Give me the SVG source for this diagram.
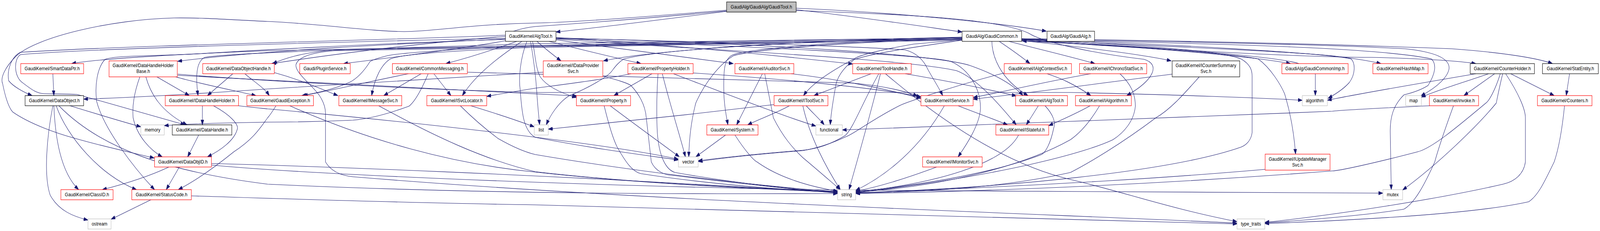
<svg xmlns="http://www.w3.org/2000/svg" width="4783" height="592" viewBox="0 0 4783 592" preserveAspectRatio="none">
<defs>
<marker id="arr" markerUnits="userSpaceOnUse" markerWidth="14" markerHeight="10" refX="13" refY="4.5" orient="auto">
<path d="M0,0 L13,4.5 L0,9 Z" fill="#191970" stroke="#191970" stroke-width="1"/>
</marker>
<style>
svg{width:100vw;height:100vh}
.n rect{fill:#ffffff;stroke-width:1.2}
.r rect{stroke:#ff0000}
.k rect{stroke:#000000}
.g rect{stroke:#bfbfbf}
.f rect{fill:#bfbfbf;stroke:#000000}
text{font-family:"Liberation Sans",Arial,Helvetica,sans-serif;font-size:13px;text-anchor:middle;fill:#000000}
#edges path{fill:none;stroke:#191970;stroke-width:1.1;marker-end:url(#arr)}
</style>
</defs>
<rect x="0" y="0" width="4783" height="592" fill="#ffffff"/>
<g id="edges">
<path d="M2172,29 C1980,50 1780,72 1662,82"/>
<path d="M2380,25 C2560,42 2760,68 2876,82"/>
<path d="M2380,21 C2700,33 3000,60 3128,80"/>
<path d="M2380,27 C2750,38 2990,50 3075,85 C3110,105 3250,135 3420,152 C3470,165 3450,205 3368,245"/>
<path d="M2172,26 C1900,45 1700,58 1600,59 C1400,62 1300,81 1208,81 C1100,80 950,60 800,55 C680,50 600,45 520,46 C330,50 110,95 49,143 C15,172 0,200 8,215 C15,245 25,275 38,287 C90,318 170,342 226,355 C320,378 400,392 461,405"/>
<path d="M2172,28 C1900,50 1700,62 1600,68 C1560,72 1530,80 1510,90 C1300,100 400,115 61,134 C35,145 20,178 26,207 C40,222 70,236 96,245"/>
<path d="M1514,104 C1400,122 1150,150 1027,163"/>
<path d="M1545,106 C1480,126 1400,148 1333,163"/>
<path d="M1560,106 C1520,130 1430,180 1382,245"/>
<path d="M1605,106 C1630,125 1660,145 1677,156"/>
<path d="M1641,106 C1750,130 1850,150 1916,163"/>
<path d="M1662,102 C1850,125 2050,148 2192,163"/>
<path d="M1586,106 C1595,150 1602,200 1605,240 C1608,280 1611,300 1613,320"/>
<path d="M1575,106 C1555,150 1550,200 1555,230 C1560,290 1565,335 1600,352 C1800,385 1950,400 2028,410"/>
<path d="M1592,106 C1600,140 1602,178 1615,197 C1635,222 1675,238 1723,250"/>
<path d="M1662,96 C2000,115 2300,140 2549,164"/>
<path d="M1511,93 C1200,115 950,145 812,163"/>
<path d="M1511,100 C1200,112 800,128 531,157"/>
<path d="M1511,98 C1100,106 300,122 61,140 C40,152 42,196 66,211 C95,230 110,240 133,240 C180,241 200,241 230,242 C350,270 490,305 553,320"/>
<path d="M1511,101 C1100,112 700,132 592,138 C450,144 330,142 313,153 C290,175 283,220 289,260 C310,330 400,430 462,486"/>
<path d="M1662,98 C2100,106 2600,120 2706,128 C2740,135 2762,155 2775,180 C2795,210 2810,230 2818,245"/>
<path d="M1662,100 C2100,128 2700,150 2859,181 C2920,200 2990,270 3038,320"/>
<path d="M1662,99 C2200,118 2780,140 2844,158 C2900,180 2932,230 2931,279 C2928,320 2890,370 2864,402"/>
<path d="M1662,97 C2300,112 2800,140 2900,168 C2980,192 3030,218 3058,245"/>
<path d="M2987,106 C3020,125 3060,150 3079,163"/>
<path d="M2965,106 C2966,140 2985,200 3073,245"/>
<path d="M2876,96 C2000,110 1000,125 800,130 C500,140 300,150 214,163"/>
<path d="M2876,97 C2200,105 1700,110 1600,112 C1100,125 700,135 612,147 C585,158 585,200 592,245"/>
<path d="M2876,99 C2000,108 1200,122 1000,128 C900,135 850,150 815,163"/>
<path d="M2876,103 C2000,112 1200,125 1000,130 C920,135 890,150 885,165 C880,185 930,215 955,245 C968,262 973,278 973,290 L973,415 C990,440 1020,450 1055,453 C2000,520 3200,550 3698,572"/>
<path d="M2876,101 C2200,108 1700,115 1600,117 C1300,128 1180,138 1157,143 C1125,150 1110,155 1106,158 C1090,180 1070,200 1045,211 C1000,228 950,238 902,245"/>
<path d="M2876,99 C2200,110 1700,118 1600,121 C1300,132 1200,140 1167,151 C1140,165 1120,200 1111,245"/>
<path d="M2876,95 C2400,104 1950,128 1804,156"/>
<path d="M2876,97 C2300,105 1950,132 1865,151 C1848,160 1838,172 1830,181 C1820,195 1760,225 1702,245 C1670,262 1645,295 1633,320"/>
<path d="M2876,99 C2500,105 2250,125 2192,140 C2165,150 2162,175 2164,242 C2166,280 2172,300 2176,320"/>
<path d="M2876,100 C2500,108 2250,128 2192,143 C2150,165 2105,215 2080,264 C2066,310 2060,360 2059,402"/>
<path d="M2876,102 C2800,108 2750,112 2731,113 C2650,125 2570,140 2553,151 C2500,175 2430,210 2402,245"/>
<path d="M2876,103 C2780,115 2610,135 2553,153 C2520,175 2500,200 2497,226 C2490,260 2484,290 2482,320"/>
<path d="M3054,100 C3400,115 3650,130 3710,151 C3738,165 3743,180 3743,195 L3743,340 C3740,360 3725,372 3710,377 C3500,440 3000,482 2558,494"/>
<path d="M3016,106 C3100,125 3200,145 3273,163"/>
<path d="M3054,104 C3250,122 3420,140 3501,156"/>
<path d="M3054,103 C3400,118 3750,145 3858,163"/>
<path d="M3054,102 C3500,118 3900,135 3983,143 C4050,150 4100,157 4128,163"/>
<path d="M3054,101 C3600,135 3950,147 4100,147 C4250,150 4350,155 4412,163"/>
<path d="M3054,99 C3500,104 3983,113 4340,125 C4500,135 4600,150 4641,163"/>
<path d="M3054,100 C3500,106 3983,115 4200,125 C4290,133 4332,150 4332,174 C4330,195 4300,222 4247,246"/>
<path d="M3054,101 C3500,110 4100,118 4279,151 C4296,165 4290,190 4269,219 C4240,235 4210,240 4197,243 C4165,270 4155,300 4156,340 C4157,400 4158,450 4159,486"/>
<path d="M3054,100 C3500,112 3983,138 4039,151 C4052,162 4052,190 4034,211 C4020,225 3995,240 3970,252"/>
<path d="M3054,105 C3500,125 3700,140 3761,151 C3800,175 3830,220 3840,240 C3858,290 3868,340 3873,395"/>
<path d="M3883,163 C3800,140 3300,112 3056,105"/>
<path d="M3932,189 L3932,245"/>
<path d="M158,189 L161,245"/>
<path d="M469,197 L566,245"/>
<path d="M525,197 C600,215 700,232 765,245"/>
<path d="M436,197 C450,240 480,285 559,320"/>
<path d="M418,197 C400,240 395,275 398,302 C410,350 450,385 485,402"/>
<path d="M531,193 C1000,215 1500,236 1725,246"/>
<path d="M531,190 C750,205 1200,228 1600,237 C2400,239 2900,237 3200,237 C3500,242 3800,252 3893,257"/>
<path d="M696,189 L620,245"/>
<path d="M820,186 C900,205 960,228 1010,245"/>
<path d="M732,189 C760,210 790,225 805,245"/>
<path d="M1624,185 C1300,200 1000,215 800,228 C600,240 400,250 250,254"/>
<path d="M1804,196 C1850,205 1880,215 1886,219 C1920,250 1930,280 1932,302 C1940,360 1945,400 1947,415 C1960,440 1990,449 2008,449 C2200,470 2400,487 2504,495"/>
<path d="M1949,189 L1835,245"/>
<path d="M1980,189 C2000,260 2030,340 2049,402"/>
<path d="M1967,189 C1962,250 1963,310 1965,340 C1970,400 1990,435 2018,442 C2200,470 2400,488 2504,493"/>
<path d="M1886,189 C1800,205 1650,220 1600,226 C1550,233 1500,240 1455,247"/>
<path d="M2013,189 C2200,250 2350,300 2439,323"/>
<path d="M2072,187 C2300,200 2600,222 2753,248"/>
<path d="M2279,189 L2202,320"/>
<path d="M2286,189 C2300,250 2308,285 2312,302 C2340,350 2370,380 2400,404 C2450,440 2490,470 2512,486"/>
<path d="M2365,189 C2500,202 2650,228 2753,252"/>
<path d="M2604,189 L2433,245"/>
<path d="M2706,189 C2850,210 2950,228 3038,246"/>
<path d="M2627,189 C2580,260 2550,330 2527,347 C2480,372 2440,382 2400,385 C2250,395 2150,405 2087,412"/>
<path d="M2632,189 C2600,300 2560,420 2538,486"/>
<path d="M2647,189 C2800,300 3000,420 3200,460 C3350,490 3500,535 3698,568"/>
<path d="M3002,187 C2850,220 2700,265 2686,272 C2600,310 2550,345 2527,351 C2480,370 2440,380 2400,386 C2250,396 2150,406 2087,414"/>
<path d="M3130,189 C3170,200 3210,215 3261,245"/>
<path d="M3261,189 C3150,205 3000,235 2909,250"/>
<path d="M3348,189 C3380,215 3394,240 3394,272 C3390,310 3360,340 3327,358 C3250,390 3000,450 2558,494"/>
<path d="M3504,190 C3300,212 3100,236 2909,254"/>
<path d="M3585,197 C3540,240 3500,280 3455,302 C3350,370 3250,420 3200,442 C3000,480 2800,490 2558,495"/>
<path d="M3259,271 C3230,285 3180,305 3135,322"/>
<path d="M3287,271 C3260,310 3230,340 3200,358 C3050,430 2800,480 2558,492"/>
<path d="M3104,271 L3068,320"/>
<path d="M3124,271 C3150,295 3156,315 3150,328 C3140,370 3125,390 3114,396 C2950,450 2700,480 2558,491"/>
<path d="M2864,271 C2920,290 2970,305 3012,320"/>
<path d="M2823,271 C2750,380 2650,450 2558,488"/>
<path d="M2314,268 C2100,290 1800,318 1639,331"/>
<path d="M2360,271 C2320,290 2270,305 2235,320"/>
<path d="M2410,271 C2430,290 2450,305 2464,320"/>
<path d="M2400,271 C2420,350 2470,430 2512,486"/>
<path d="M3045,346 C3000,420 2800,470 2558,492"/>
<path d="M2800,428 C2700,460 2620,480 2558,490"/>
<path d="M2169,346 L2080,402"/>
<path d="M2197,346 C2230,390 2255,412 2263,415 C2320,450 2400,475 2504,490"/>
<path d="M1824,271 C1900,320 1980,370 2031,402"/>
<path d="M1806,271 C1820,320 1835,360 1845,377 C1870,415 1890,440 1916,445 C2100,470 2350,488 2504,492"/>
<path d="M1407,271 C1480,290 1550,310 1597,325"/>
<path d="M1376,271 C1410,300 1450,330 1489,355 C1530,375 1570,390 1600,396 C1900,440 2300,480 2504,491"/>
<path d="M1132,271 C1300,350 1450,410 1600,440 C1900,470 2300,485 2504,491"/>
<path d="M825,271 C815,285 805,297 800,302 C780,325 760,355 699,389 C640,430 580,465 533,486"/>
<path d="M866,271 C1100,360 1350,420 1600,441 C1900,470 2300,486 2504,492"/>
<path d="M1221,189 C1100,210 1000,230 907,245"/>
<path d="M1259,189 L1147,245"/>
<path d="M1297,189 L1348,245"/>
<path d="M1397,185 C1800,194 2300,208 2550,213 C2640,220 2700,232 2743,246"/>
<path d="M1280,189 C1260,230 1240,260 1223,272 C1150,295 1100,305 1055,308 C950,312 850,313 800,313 C650,315 550,318 491,322"/>
<path d="M605,271 L605,320"/>
<path d="M638,271 C690,295 715,320 709,332 C700,360 660,385 620,402"/>
<path d="M713,271 C750,275 790,278 800,279 C1200,310 1800,365 2028,408"/>
<path d="M594,346 L561,402"/>
<path d="M161,271 C165,350 180,440 235,486"/>
<path d="M168,271 C200,350 300,450 408,486"/>
<path d="M209,271 C300,295 380,315 421,325"/>
<path d="M158,271 C140,350 130,450 150,500 C175,540 220,555 263,564"/>
<path d="M176,271 C300,380 500,440 800,472 C1500,500 2200,497 2504,496"/>
<path d="M505,428 C450,450 380,470 306,486"/>
<path d="M536,428 L497,486"/>
<path d="M632,419 C900,425 1600,445 2504,494"/>
<path d="M632,423 C900,445 1600,472 2400,486 C3000,491 3700,492 4134,495"/>
<path d="M451,512 L332,562"/>
<path d="M572,502 C800,508 1200,520 1600,525 C2500,545 3300,560 3698,574"/>
<path d="M4450,189 C4380,210 4300,230 4249,249"/>
<path d="M4468,189 L4376,245"/>
<path d="M4516,189 L4646,245"/>
<path d="M4492,189 C4482,225 4475,255 4473,264 C4420,320 4300,420 4193,487"/>
<path d="M4412,189 C4200,220 4050,242 3968,257"/>
<path d="M4485,189 C4470,230 4452,258 4442,264 C4350,330 4280,380 4238,389 C4100,420 4000,438 3983,438 C3500,470 3000,490 2558,496"/>
<path d="M4501,189 C4540,240 4560,280 4560,302 L4560,415 C4555,445 4530,465 4493,472 C4300,510 4000,550 3781,570"/>
<path d="M4692,189 L4682,245"/>
<path d="M4274,271 C4100,278 4000,283 3983,285 C3700,295 3400,305 3200,311 C2900,320 2700,328 2518,333"/>
<path d="M4345,271 C4320,330 4300,380 4289,415 C4260,470 4230,520 4197,536 C4100,550 3900,565 3781,571"/>
<path d="M4677,271 C4670,330 4660,380 4646,415 C4620,460 4600,500 4570,517 C4400,550 4000,566 3781,573"/>
<path d="M3782,434 C3500,455 3200,472 2558,495"/>
</g>
<g id="node-GaudiTool" class="n f"><rect x="2172" y="5" width="208" height="26"/><text x="2276" y="22.5">GaudiAlg/GaudiAlg/GaudiTool.h</text></g>
<g id="node-AlgTool" class="n k"><rect x="1511" y="80" width="151" height="26"/><text x="1586.5" y="97.5">GaudiKernel/AlgTool.h</text></g>
<g id="node-GaudiCommon" class="n k"><rect x="2876" y="80" width="178" height="26"/><text x="2965" y="97.5">GaudiAlg/GaudiCommon.h</text></g>
<g id="node-GaudiAlg" class="n k"><rect x="3130" y="80" width="142" height="26"/><text x="3201" y="97.5">GaudiAlg/GaudiAlg.h</text></g>
<g id="node-SmartDataPtr" class="n r"><rect x="62" y="163" width="188" height="26"/><text x="156" y="180.5">GaudiKernel/SmartDataPtr.h</text></g>
<g id="node-DataHandleHolderBase" class="n r"><rect x="326" y="156" width="204" height="41"/><text x="428" y="172">GaudiKernel/DataHandleHolder</text><text x="428" y="187">Base.h</text></g>
<g id="node-DataObjectHandle" class="n r"><rect x="606" y="163" width="214" height="26"/><text x="713" y="180.5">GaudiKernel/DataObjectHandle.h</text></g>
<g id="node-PluginService" class="n r"><rect x="896" y="163" width="151" height="26"/><text x="971.5" y="180.5">Gaudi/PluginService.h</text></g>
<g id="node-CommonMessaging" class="n r"><rect x="1173" y="163" width="224" height="26"/><text x="1285" y="180.5">GaudiKernel/CommonMessaging.h</text></g>
<g id="node-IDataProviderSvc" class="n r"><rect x="1624" y="156" width="178" height="41"/><text x="1713" y="172">GaudiKernel/IDataProvider</text><text x="1713" y="187">Svc.h</text></g>
<g id="node-PropertyHolder" class="n r"><rect x="1877" y="163" width="195" height="26"/><text x="1974.5" y="180.5">GaudiKernel/PropertyHolder.h</text></g>
<g id="node-IAuditorSvc" class="n r"><rect x="2197" y="163" width="176" height="26"/><text x="2285" y="180.5">GaudiKernel/IAuditorSvc.h</text></g>
<g id="node-ToolHandle" class="n r"><rect x="2549" y="163" width="175" height="26"/><text x="2636.5" y="180.5">GaudiKernel/ToolHandle.h</text></g>
<g id="node-IAlgContextSvc" class="n r"><rect x="3002" y="163" width="201" height="26"/><text x="3102.5" y="180.5">GaudiKernel/IAlgContextSvc.h</text></g>
<g id="node-IChronoStatSvc" class="n r"><rect x="3227" y="163" width="201" height="26"/><text x="3327.5" y="180.5">GaudiKernel/IChronoStatSvc.h</text></g>
<g id="node-ICounterSummarySvc" class="n k"><rect x="3504" y="156" width="202" height="41"/><text x="3605" y="172">GaudiKernel/ICounterSummary</text><text x="3605" y="187">Svc.h</text></g>
<g id="node-GaudiCommonImp" class="n r"><rect x="3832" y="163" width="198" height="26"/><text x="3931" y="180.5">GaudiAlg/GaudiCommonImp.h</text></g>
<g id="node-HashMap" class="n r"><rect x="4104" y="163" width="165" height="26"/><text x="4186.5" y="180.5">GaudiKernel/HashMap.h</text></g>
<g id="node-CounterHolder" class="n k"><rect x="4395" y="163" width="192" height="26"/><text x="4491" y="180.5">GaudiKernel/CounterHolder.h</text></g>
<g id="node-StatEntity" class="n k"><rect x="4611" y="163" width="167" height="26"/><text x="4694.5" y="180.5">GaudiKernel/StatEntity.h</text></g>
<g id="node-DataObject" class="n k"><rect x="75" y="245" width="175" height="26"/><text x="162.5" y="262.5">GaudiKernel/DataObject.h</text></g>
<g id="node-IDataHandleHolder" class="n r"><rect x="494" y="245" width="219" height="26"/><text x="603.5" y="262.5">GaudiKernel/IDataHandleHolder.h</text></g>
<g id="node-GaudiException" class="n r"><rect x="738" y="245" width="199" height="26"/><text x="837.5" y="262.5">GaudiKernel/GaudiException.h</text></g>
<g id="node-IMessageSvc" class="n r"><rect x="1013" y="245" width="188" height="26"/><text x="1107" y="262.5">GaudiKernel/IMessageSvc.h</text></g>
<g id="node-ISvcLocator" class="n r"><rect x="1276" y="245" width="179" height="26"/><text x="1365.5" y="262.5">GaudiKernel/ISvcLocator.h</text></g>
<g id="node-IProperty" class="n r"><rect x="1723" y="245" width="162" height="26"/><text x="1804" y="262.5">GaudiKernel/IProperty.h</text></g>
<g id="node-IToolSvc" class="n r"><rect x="2314" y="245" width="161" height="26"/><text x="2394.5" y="262.5">GaudiKernel/IToolSvc.h</text></g>
<g id="node-IService" class="n r"><rect x="2753" y="245" width="156" height="26"/><text x="2831" y="262.5">GaudiKernel/IService.h</text></g>
<g id="node-IAlgTool" class="n r"><rect x="3036" y="245" width="155" height="26"/><text x="3113.5" y="262.5">GaudiKernel/IAlgTool.h</text></g>
<g id="node-IAlgorithm" class="n r"><rect x="3215" y="245" width="167" height="26"/><text x="3298.5" y="262.5">GaudiKernel/IAlgorithm.h</text></g>
<g id="node-algorithm" class="n g"><rect x="3893" y="245" width="75" height="26"/><text x="3930.5" y="262.5">algorithm</text></g>
<g id="node-map" class="n g"><rect x="4202" y="245" width="47" height="26"/><text x="4225.5" y="262.5">map</text></g>
<g id="node-invoke" class="n r"><rect x="4273" y="245" width="147" height="26"/><text x="4346.5" y="262.5">GaudiKernel/invoke.h</text></g>
<g id="node-Counters" class="n r"><rect x="4596" y="245" width="163" height="26"/><text x="4677.5" y="262.5">GaudiKernel/Counters.h</text></g>
<g id="node-memory" class="n g"><rect x="421" y="320" width="70" height="26"/><text x="456" y="337.5">memory</text></g>
<g id="node-DataHandle" class="n k"><rect x="515" y="320" width="178" height="26"/><text x="604" y="337.5">GaudiKernel/DataHandle.h</text></g>
<g id="node-list" class="n g"><rect x="1597" y="320" width="42" height="26"/><text x="1618" y="337.5">list</text></g>
<g id="node-System" class="n r"><rect x="2113" y="320" width="153" height="26"/><text x="2189.5" y="337.5">GaudiKernel/System.h</text></g>
<g id="node-functional" class="n g"><rect x="2439" y="320" width="79" height="26"/><text x="2478.5" y="337.5">functional</text></g>
<g id="node-IStateful" class="n r"><rect x="2977" y="320" width="158" height="26"/><text x="3056" y="337.5">GaudiKernel/IStateful.h</text></g>
<g id="node-DataObjID" class="n r"><rect x="462" y="402" width="170" height="26"/><text x="547" y="419.5">GaudiKernel/DataObjID.h</text></g>
<g id="node-vector" class="n g"><rect x="2028" y="402" width="59" height="26"/><text x="2057.5" y="419.5">vector</text></g>
<g id="node-IMonitorSvc" class="n r"><rect x="2758" y="402" width="178" height="26"/><text x="2847" y="419.5">GaudiKernel/IMonitorSvc.h</text></g>
<g id="node-IUpdateManagerSvc" class="n r"><rect x="3782" y="395" width="194" height="41"/><text x="3879" y="412">GaudiKernel/IUpdateManager</text><text x="3879" y="427">Svc.h</text></g>
<g id="node-ClassID" class="n r"><rect x="182" y="486" width="156" height="26"/><text x="260" y="503.5">GaudiKernel/ClassID.h</text></g>
<g id="node-StatusCode" class="n r"><rect x="394" y="486" width="178" height="26"/><text x="483" y="503.5">GaudiKernel/StatusCode.h</text></g>
<g id="node-string" class="n g"><rect x="2504" y="486" width="54" height="26"/><text x="2531" y="503.5">string</text></g>
<g id="node-mutex" class="n g"><rect x="4134" y="486" width="59" height="26"/><text x="4163.5" y="503.5">mutex</text></g>
<g id="node-ostream" class="n g"><rect x="263" y="561" width="69" height="26"/><text x="297.5" y="578.5">ostream</text></g>
<g id="node-type_traits" class="n g"><rect x="3698" y="561" width="83" height="26"/><text x="3739.5" y="578.5">type_traits</text></g>
</svg>
